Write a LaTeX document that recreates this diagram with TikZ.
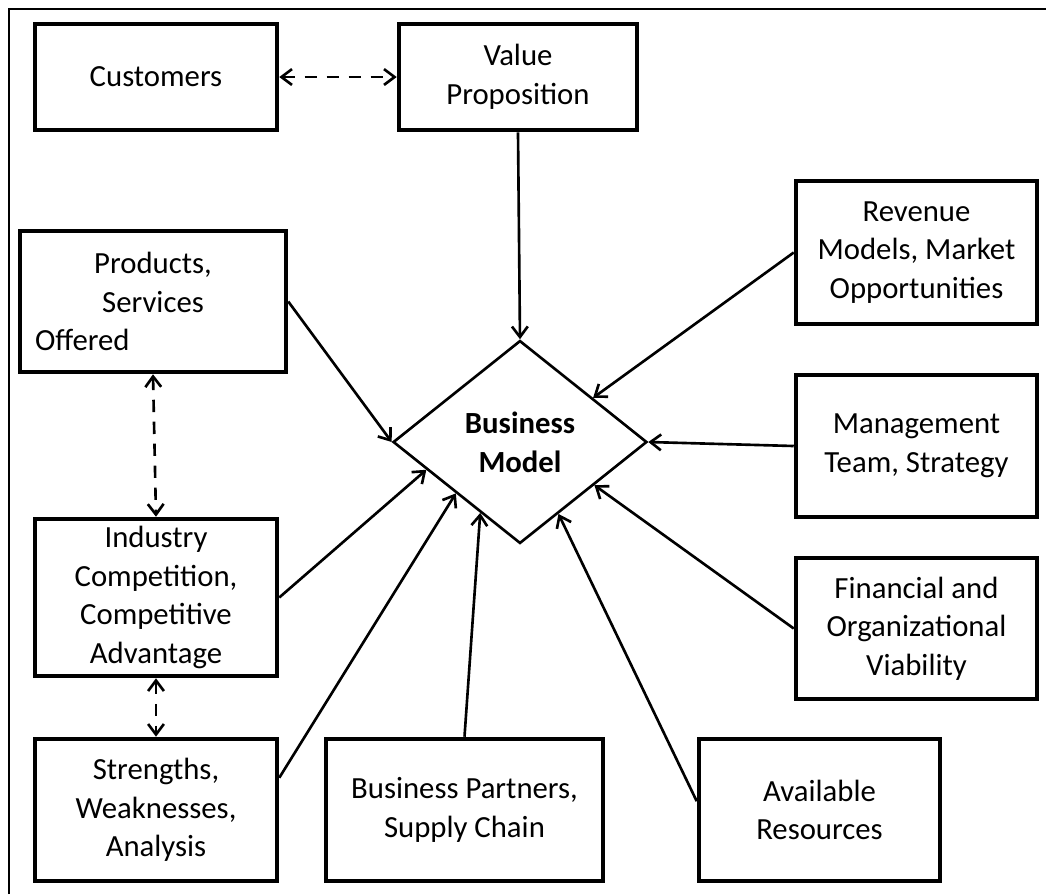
\documentclass[tikz,border=0pt]{standalone}
\usepackage{fontspec}
\setmainfont{Carlito}
\usetikzlibrary{calc}
\usetikzlibrary{shapes.geometric}
\usetikzlibrary{arrows.meta}

\begin{document}
\begin{tikzpicture}[x=0.02cm, y=-0.02cm,
    font=\fontsize{17.5}{22}\selectfont,
    blockbox/.style={draw, rectangle, line width=2.6pt, align=center, inner sep=2pt},
    link/.style={line width=1.5pt, -{Straight Barb[length=6pt,width=9pt]}},
    twoway/.style={line width=1.5pt, dash pattern=on 7pt off 5.5pt,
        {Straight Barb[length=6pt,width=9pt]}-{Straight Barb[length=6pt,width=9pt]}}]

    \useasboundingbox (0,0) rectangle (1046,894);

    % Frame (top and left only)
    \draw[line width=1.3pt] (9,894) -- (9,9) -- (1046,9);

    % Centre
    \node[diamond, draw, line width=1.5pt, aspect=1.25, inner sep=0pt,
          minimum width=5.08cm, minimum height=4.06cm, align=center,
          font=\fontsize{17.5}{22}\selectfont\bfseries] (bm) at (520,442) {Business\\Model};

    % Boxes
    \node[blockbox, minimum width=4.84cm, minimum height=2.12cm] (cust) at (156,77) {Customers};
    \node[blockbox, minimum width=4.76cm, minimum height=2.12cm] (valprop) at (518,77) {Value\\Proposition};
    \node[blockbox, minimum width=5.32cm, minimum height=2.82cm, text width=4.72cm] (prod) at (153,301.5)
        {Products,\\Services\\\makebox[4.72cm][l]{Offered}};
    \node[blockbox, minimum width=4.82cm, minimum height=2.86cm] (rev) at (916.5,252.5) {Revenue\\Models, Market\\Opportunities};
    \node[blockbox, minimum width=4.82cm, minimum height=2.84cm] (mgmt) at (916.5,446) {Management\\Team, Strategy};
    \node[blockbox, minimum width=4.82cm, minimum height=2.82cm] (fin) at (916.5,628.5) {Financial and\\Organizational\\Viability};
    \node[blockbox, minimum width=4.84cm, minimum height=3.14cm] (ind) at (156,597.5) {Industry\\Competition,\\Competitive\\Advantage};
    \node[blockbox, minimum width=4.84cm, minimum height=2.84cm] (swot) at (156,810) {Strengths,\\Weaknesses,\\Analysis};
    \node[blockbox, minimum width=5.54cm, minimum height=2.84cm] (partners) at (464.5,810) {Business Partners,\\Supply Chain};
    \node[blockbox, minimum width=4.82cm, minimum height=2.84cm] (avail) at (819.5,810) {Available\\Resources};

    % Tips on the diamond edges
    \coordinate (revTip) at ($(bm.north)!0.57!(bm.east)$);
    \coordinate (finTip) at ($(bm.south)!0.58!(bm.east)$);
    \coordinate (availTip) at ($(bm.south)!0.30!(bm.east)$);
    \coordinate (partTip) at ($(bm.west)!0.69!(bm.south)$);
    \coordinate (swotTip) at ($(bm.west)!0.50!(bm.south)$);
    \coordinate (indTip) at ($(bm.west)!0.27!(bm.south)$);

    % Arrows into the model
    \draw[link] (valprop.south) -- (bm.north);
    \draw[link] (rev.west) -- (revTip);
    \draw[link] (mgmt.west) -- (bm.east);
    \draw[link] (fin.west) -- (finTip);
    \draw[link] ($(avail.north west)!0.44!(avail.south west)$) -- (availTip);
    \draw[link] (partners.north) -- (partTip);
    \draw[link] ($(swot.north east)!0.28!(swot.south east)$) -- (swotTip);
    \draw[link] (ind.east) -- (indTip);
    \draw[link] (prod.east) -- (bm.west);

    % Two-way dashed links
    \draw[twoway] (cust.east) -- (valprop.west);
    \draw[twoway] (prod.south) -- (ind.north);
    \draw[twoway] (ind.south) -- (swot.north);

\end{tikzpicture}
\end{document}
